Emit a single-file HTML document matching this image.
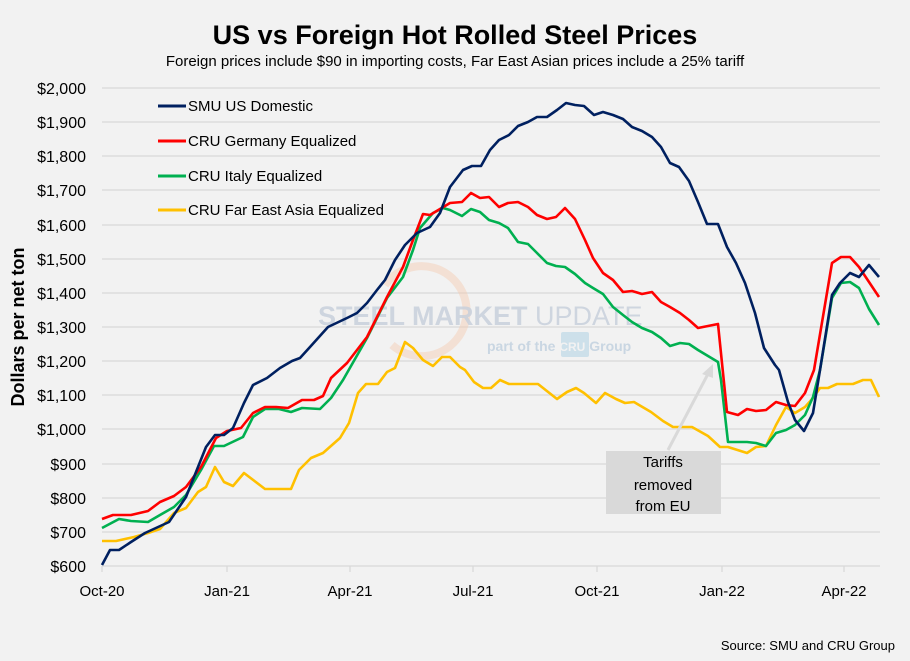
<!DOCTYPE html>
<html><head><meta charset="utf-8"><style>
body{margin:0;background:#f2f2f2}
svg{display:block;font-family:"Liberation Sans",sans-serif}
</style></head><body>
<svg width="910" height="661" viewBox="0 0 910 661">
<rect width="910" height="661" fill="#f2f2f2"/>
<text x="455" y="44" text-anchor="middle" font-size="27" font-weight="bold" fill="#000">US vs Foreign Hot Rolled Steel Prices</text>
<text x="455" y="66" text-anchor="middle" font-size="15" fill="#000">Foreign prices include $90 in importing costs, Far East Asian prices include a 25% tariff</text>
<g stroke="#d9d9d9" stroke-width="1.3">
<line x1="102" x2="880" y1="88" y2="88"/><line x1="102" x2="880" y1="122" y2="122"/><line x1="102" x2="880" y1="156" y2="156"/><line x1="102" x2="880" y1="190" y2="190"/><line x1="102" x2="880" y1="225" y2="225"/><line x1="102" x2="880" y1="259" y2="259"/><line x1="102" x2="880" y1="293" y2="293"/><line x1="102" x2="880" y1="327" y2="327"/><line x1="102" x2="880" y1="361" y2="361"/><line x1="102" x2="880" y1="395" y2="395"/><line x1="102" x2="880" y1="429" y2="429"/><line x1="102" x2="880" y1="464" y2="464"/><line x1="102" x2="880" y1="498" y2="498"/><line x1="102" x2="880" y1="532" y2="532"/><line x1="102" x2="880" y1="566" y2="566"/>
<line x1="102" x2="102" y1="566" y2="572"/><line x1="227" x2="227" y1="566" y2="572"/><line x1="350" x2="350" y1="566" y2="572"/><line x1="473" x2="473" y1="566" y2="572"/><line x1="597" x2="597" y1="566" y2="572"/><line x1="722" x2="722" y1="566" y2="572"/><line x1="844" x2="844" y1="566" y2="572"/>
</g>
<g font-size="16" fill="#000" text-anchor="end">
<text x="86" y="94">$2,000</text><text x="86" y="128">$1,900</text><text x="86" y="162">$1,800</text><text x="86" y="196">$1,700</text><text x="86" y="231">$1,600</text><text x="86" y="265">$1,500</text><text x="86" y="299">$1,400</text><text x="86" y="333">$1,300</text><text x="86" y="367">$1,200</text><text x="86" y="401">$1,100</text><text x="86" y="435">$1,000</text><text x="86" y="470">$900</text><text x="86" y="504">$800</text><text x="86" y="538">$700</text><text x="86" y="572">$600</text>
</g>
<g font-size="15" fill="#000" text-anchor="middle">
<text x="102" y="596">Oct-20</text><text x="227" y="596">Jan-21</text><text x="350" y="596">Apr-21</text><text x="473" y="596">Jul-21</text><text x="597" y="596">Oct-21</text><text x="722" y="596">Jan-22</text><text x="844" y="596">Apr-22</text>
</g>
<text transform="translate(24,327) rotate(-90)" text-anchor="middle" font-size="18" font-weight="bold" fill="#000">Dollars per net ton</text>
<text x="895" y="650" text-anchor="end" font-size="13" fill="#000">Source: SMU and CRU Group</text>
<!-- watermark -->
<path d="M385,285 A45,45 0 1 1 392,345" fill="none" stroke="#f4c9b0" stroke-width="8" opacity="0.45"/>
<text x="318" y="325" font-size="27" font-weight="bold" fill="#c8d0dc" opacity="0.85">STEEL MARKET <tspan font-weight="normal">UPDATE</tspan></text>
<rect x="561" y="332" width="28" height="25" rx="2" fill="#cde0ea"/>
<text x="487" y="351" font-size="14" font-weight="bold" fill="#c9d6e2">part of the <tspan fill="#f2f2f2" font-size="12">CRU</tspan> Group</text>
<g fill="none" stroke-width="2.6" stroke-linejoin="round">
<polyline stroke="#ffc000" points="102,541 116,541 134,537 148,533 160,529 174,513 186,508 198,492 206,487 215,467 224,482 233,486 244,473 265,489 291,489 299,470 311,458 323,453 340,438 349,423 358,393 366,384 378,384 387,372 395,368 405,342 413,348 423,360 433,366 442,357 450,357 460,367 465,370 474,382 483,388 491,388 500,380 509,384 538,384 557,399 567,392 576,388 584,393 596,403 605,393 616,399 625,403 634,402 651,412 663,421 673,427 681,427 692,427 708,436 720,447 728,447 747,453 756,447 766,446 776,425 786,407 795,413 805,407 813,398 820,388 828,388 837,384 853,384 863,380 871,380 879,397"/>
<polyline stroke="#00b050" points="102,528 119,519 131,521 148,522 160,515 174,507 186,495 201,470 214,446 224,446 243,437 253,417 265,409 279,409 291,412 302,408 320,409 331,398 343,380 367,338 387,298 403,277 413,250 420,228 433,213 443,208 450,210 462,216 471,209 480,212 489,220 499,223 508,228 518,242 528,244 537,253 547,263 556,266 565,267 575,274 585,283 593,288 603,294 613,307 623,315 632,322 642,328 652,332 661,338 670,346 680,343 689,344 698,350 708,356 718,362 721,380 728,442 747,442 756,443 766,446 776,433 786,430 795,425 805,415 813,397 820,370 832,298 841,283 850,282 859,288 869,309 879,325"/>
<polyline stroke="#ff0000" points="102,519 113,515 131,515 148,511 160,502 174,496 186,487 201,467 216,438 227,431 241,428 253,413 265,407 276,407 288,408 302,400 314,400 323,396 331,378 347,363 367,337 387,297 403,267 413,240 423,214 430,215 450,203 462,202 471,193 480,198 489,197 499,207 508,203 518,202 528,207 537,215 547,219 556,217 565,208 575,219 585,240 593,258 603,273 613,280 623,292 632,291 642,294 652,292 661,302 670,307 680,313 689,320 698,328 708,326 718,324 727,412 738,415 747,409 756,411 766,410 776,402 786,405 795,406 805,393 814,370 832,263 841,257 850,257 859,267 869,282 879,297"/>
<polyline stroke="#002060" points="102,565 110,550 119,550 131,542 145,533 169,522 186,497 206,447 215,435 224,435 233,428 244,403 253,385 267,378 280,368 292,361 300,358 310,347 328,327 347,318 357,313 367,303 377,290 385,280 395,260 405,245 417,233 430,227 440,213 450,187 463,170 472,166 481,166 490,150 499,140 509,135 518,126 528,122 537,117 547,117 557,110 566,103 575,105 584,106 594,115 603,112 613,115 623,119 632,127 642,131 652,137 661,147 670,163 679,167 689,181 698,202 707,224 718,224 727,247 736,263 745,283 755,313 764,348 775,365 779,370 788,402 795,420 804,431 813,413 820,370 832,295 840,283 850,273 859,277 869,265 879,277"/>
</g>
<!-- legend -->
<g stroke-width="3">
<line x1="158" x2="186" y1="106" y2="106" stroke="#002060"/>
<line x1="158" x2="186" y1="141" y2="141" stroke="#ff0000"/>
<line x1="158" x2="186" y1="176" y2="176" stroke="#00b050"/>
<line x1="158" x2="186" y1="210" y2="210" stroke="#ffc000"/>
</g>
<g font-size="15" fill="#000">
<text x="188" y="111">SMU US Domestic</text>
<text x="188" y="146">CRU Germany Equalized</text>
<text x="188" y="181">CRU Italy Equalized</text>
<text x="188" y="215">CRU Far East Asia Equalized</text>
</g>
<!-- annotation -->
<line x1="668" y1="450" x2="709" y2="372" stroke="#d9d9d9" stroke-width="3"/>
<polygon points="713,364 702,374 713,378" fill="#d9d9d9"/>
<rect x="606" y="451" width="115" height="63" fill="#d9d9d9"/>
<g font-size="15" fill="#000" text-anchor="middle">
<text x="663" y="467">Tariffs</text>
<text x="663" y="490">removed</text>
<text x="663" y="511">from EU</text>
</g>
</svg>
</body></html>
